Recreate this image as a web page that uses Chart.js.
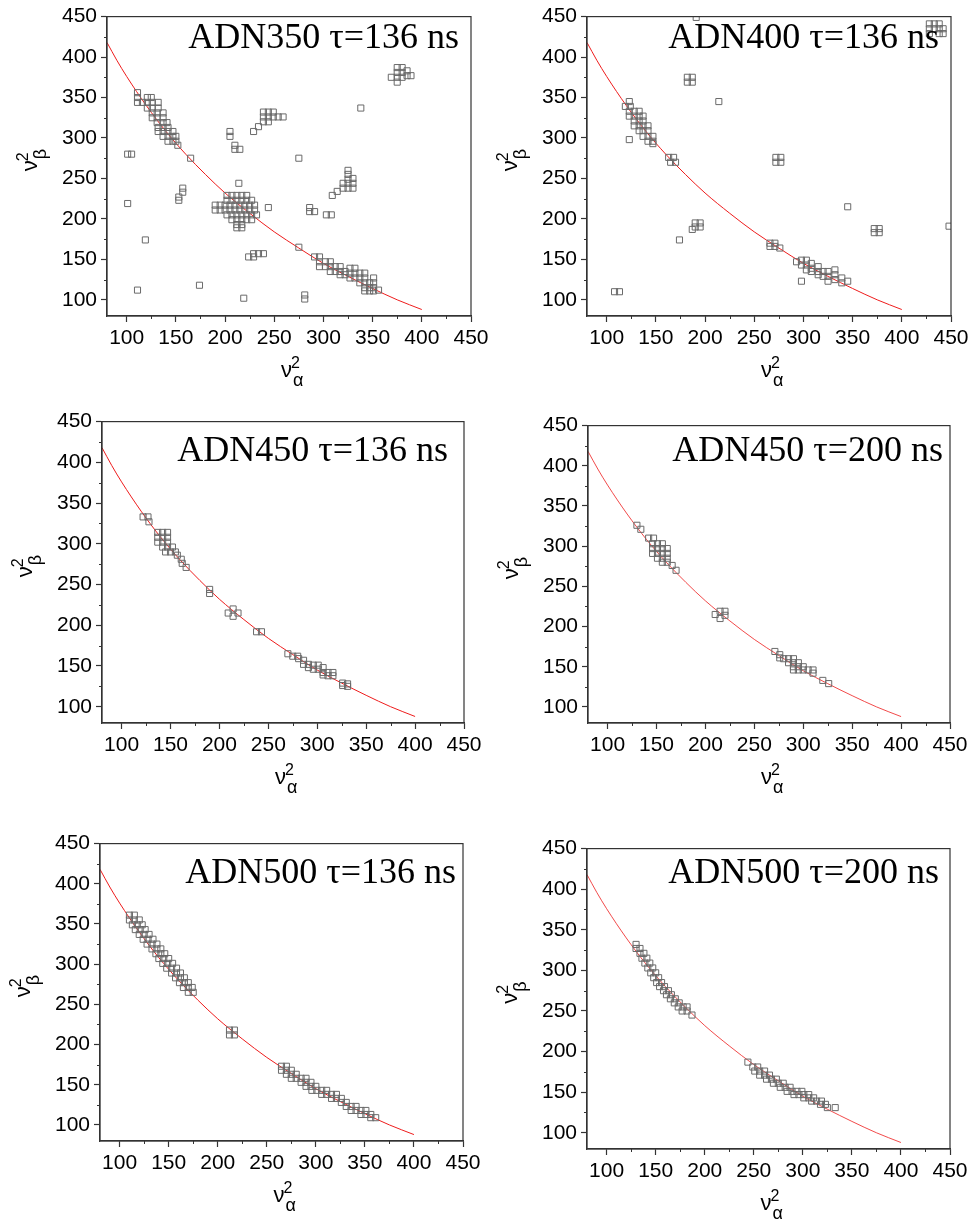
<!DOCTYPE html>
<html>
<head>
<meta charset="utf-8">
<script src="https://cdn.jsdelivr.net/npm/chart.js@4.4.1/dist/chart.umd.min.js"></script>
<style>
  body { margin: 0; background: #fff; width: 973px; height: 1220px; position: relative; overflow: hidden; }
  canvas { position: absolute; }
</style>
</head>
<body>
<script>
// axis ticks
const xTicks = [100, 150, 200, 250, 300, 350, 400, 450];
const yTicks = [100, 150, 200, 250, 300, 350, 400, 450];
const minorTicks = [125, 175, 225, 275, 325, 375, 425];

// red reference curve
const curveX = [80, 90, 100, 120, 140, 160, 180, 200, 225, 250, 275, 300, 325, 350, 375, 400];
const curveY = [418, 396, 376, 340, 308, 280, 255, 232, 207, 184, 164, 145, 129, 114, 100, 88];

// [nu_alpha^2, nu_beta^2] points per panel
const adn350_136 = [
  [111,356],[111,350],[121,350],[125,350],[111,344],[116,344],[121,344],[126,344],[132,344],
  [121,337],[126,337],[132,337],[126,331],[131,331],[137,331],[126,325],[131,325],[137,325],
  [131,319],[137,319],[141,319],[132,313],[137,313],[142,313],[132,308],[137,308],[142,308],[147,308],
  [137,302],[142,302],[147,302],[150,302],[142,296],[147,296],[150,296],[152,291],
  [101,280],[105,280],[101,219],[111,112],[119,174],[157,238],[157,233],[153,227],[153,223],
  [165,275],[174,118],[205,308],[205,302],[210,291],[210,286],[215,286],[214,244],[219,102],
  [244,214],[224,153],[229,153],[229,157],[234,157],[239,157],[229,308],[234,314],
  [239,332],[244,332],[249,332],[239,326],[244,326],[249,326],[254,326],[259,326],[239,320],[244,320],
  [275,275],[275,165],[281,106],[281,101],[286,214],[286,209],[291,209],[303,205],[308,205],
  [309,229],[314,234],[320,244],[320,238],[325,260],[325,255],[325,249],[325,244],[325,238],
  [330,250],[330,244],[330,238],[338,337],
  [369,375],[375,387],[375,381],[375,375],[375,369],[380,387],[380,381],[380,375],[385,383],[385,377],[389,377],
  [202,229],[207,229],[212,229],[217,229],[222,229],
  [202,223],[207,223],[212,223],[217,223],[222,223],[227,223],
  [190,217],[195,217],[200,217],[205,217],[210,217],[215,217],[220,217],[225,217],[230,217],
  [190,211],[195,211],[200,211],[205,211],[210,211],[215,211],[220,211],[225,211],[230,211],
  [202,205],[207,205],[212,205],[217,205],[222,205],[227,205],[232,205],
  [207,199],[212,199],[217,199],[222,199],[227,199],[212,193],[217,193],[212,189],[217,189],
  [291,153],[296,153],[296,147],[296,141],[302,147],[302,141],[307,147],[307,141],[307,135],
  [312,141],[312,135],[317,141],[317,135],[317,131],[322,135],[322,131],[327,139],[327,133],[327,127],
  [332,139],[332,133],[332,127],[337,133],[337,127],[337,121],[342,133],[342,127],[342,121],[342,115],[342,111],
  [347,121],[347,115],[347,111],[351,127],[351,121],[351,115],[351,111],[356,112]
];

const adn400_136 = [
  [191,449],[428,441],[433,441],[438,441],[428,435],[433,435],[438,435],[442,435],[428,429],[438,429],[442,429],
  [182,375],[187,375],[182,369],[187,369],[214,345],
  [123,345],[119,339],[124,339],[123,333],[128,333],[133,333],[123,327],[128,327],[133,327],[137,327],
  [128,321],[133,321],[137,321],[128,315],[133,315],[137,315],[142,315],[133,309],[137,309],[142,309],
  [137,302],[142,302],[147,302],[142,296],[147,296],[147,293],[123,298],
  [163,276],[168,276],[165,270],[170,270],[272,276],[277,276],[272,270],[277,270],[174,174],
  [187,187],[190,195],[195,195],[190,190],[195,190],[345,215],[372,188],[377,188],[372,183],[377,183],
  [448,191],[108,110],[113,110],[266,170],[271,170],[266,166],[271,166],[276,164],
  [293,147],[298,149],[298,143],[303,149],[303,143],[303,137],[308,145],[308,139],[308,135],
  [315,141],[315,135],[315,131],[320,135],[320,129],[325,135],[325,129],[325,123],
  [332,137],[332,131],[332,125],[339,127],[339,121],[345,123],[298,123]
];

const adn450_136 = [
  [122,333],[127,333],[128,327],[137,314],[142,314],[147,314],[137,308],[142,308],[147,308],
  [137,302],[142,302],[147,302],[142,296],[147,296],[152,296],[145,290],[150,290],[155,290],
  [157,286],[161,281],[162,276],[166,271],[190,244],[190,239],[209,215],[214,220],[214,211],[219,215],
  [238,192],[243,192],[270,165],[275,162],[280,162],[281,159],[286,157],[286,152],[291,152],[291,148],
  [296,151],[296,146],[301,146],[301,151],[306,148],[306,142],[311,142],[316,142],[316,138],[311,138],
  [306,139],[326,129],[331,125],[326,126],[331,128]
];

const adn450_200 = [
  [130,326],[134,321],[142,310],[147,310],[146,303],[151,303],[156,303],[146,297],[151,297],[156,297],[161,297],
  [146,291],[151,291],[156,291],[161,291],[151,285],[156,285],[161,285],[156,280],[161,280],[166,276],[170,270],
  [210,215],[215,219],[220,219],[215,210],[220,214],[271,169],[276,165],[276,161],
  [280,160],[285,160],[290,160],[285,155],[290,155],[295,155],[290,150],[295,150],[300,150],
  [290,146],[295,146],[300,146],[305,146],[310,146],[310,142],[320,133],[326,129]
];

const adn500_136 = [
  [110,361],[115,361],[110,355],[115,355],[120,355],[113,349],[118,349],[123,349],
  [116,343],[121,343],[126,343],[120,337],[125,337],[130,337],[124,331],[129,331],[134,331],
  [128,325],[133,325],[138,325],[133,319],[138,319],[142,319],[137,313],[142,313],[146,313],
  [140,307],[145,307],[150,307],[144,301],[149,301],[154,301],[148,295],[153,295],[158,295],
  [153,289],[158,289],[162,289],[157,283],[162,283],[166,283],[161,277],[166,277],[170,277],
  [165,271],[170,271],[174,271],[170,265],[175,265],
  [212,218],[217,218],[212,212],[217,212],
  [265,173],[270,173],[265,168],[270,168],[275,168],[270,163],[275,163],[280,163],
  [275,158],[280,158],[285,158],[290,158],[285,153],[290,153],[295,153],[290,148],[295,148],[300,148],
  [296,143],[301,143],[306,143],[311,143],[306,138],[311,138],[316,138],[321,138],
  [316,133],[321,133],[326,133],[326,128],[331,128],[331,123],[336,123],[341,123],
  [336,118],[341,118],[346,118],[351,118],[346,113],[351,113],[356,113],[356,109],[361,109]
];

const adn500_200 = [
  [130,332],[130,327],[134,327],[134,321],[138,321],[136,315],[141,315],[139,309],[144,309],
  [142,303],[147,303],[145,297],[150,297],[148,291],[153,291],[151,285],[156,285],[154,280],[159,280],
  [158,275],[163,275],[161,270],[166,270],[165,265],[170,265],[169,260],[174,260],
  [173,255],[178,255],[182,255],[177,250],[182,250],[187,245],
  [244,187],[249,181],[254,181],[251,176],[256,176],[261,176],[256,171],[261,171],[266,171],
  [263,166],[268,166],[273,166],[270,161],[275,161],[280,161],[277,156],[282,156],[287,156],
  [284,151],[289,151],[294,151],[299,151],[291,147],[296,147],[301,147],[306,147],
  [301,143],[306,143],[311,143],[309,139],[314,139],[319,139],[318,135],[323,135],[325,131],[333,131]
];

// panel placement: canvas box and title offsets inside the plot area
const panels = [
  { title: "ADN350 τ=136 ns", pts: adn350_136, left: 7, top: 0, w: 486, h: 391, dx: 12, dy: 31, lw: 1 },
  { title: "ADN400 τ=136 ns", pts: adn400_136, left: 487, top: 0, w: 486, h: 391, dx: 12, dy: 31, lw: 1 },
  { title: "ADN450 τ=136 ns", pts: adn450_136, left: 2, top: 405, w: 484, h: 393, dx: 16, dy: 39, lw: 1 },
  { title: "ADN450 τ=200 ns", pts: adn450_200, left: 488, top: 409, w: 484, h: 389, dx: 7, dy: 35, lw: 0.8 },
  { title: "ADN500 τ=136 ns", pts: adn500_136, left: 0, top: 827, w: 485, h: 389, dx: 7, dy: 39, lw: 1 },
  { title: "ADN500 τ=200 ns", pts: adn500_200, left: 487, top: 832, w: 485, h: 392, dx: 11, dy: 34, lw: 0.8 }
];

function drawSymbol(ctx, x, y, sub) {
  ctx.font = '22px "Liberation Sans"';
  ctx.fillText("ν", x, y);
  const w = ctx.measureText("ν").width;
  ctx.font = '16px "Liberation Sans"';
  ctx.fillText("2", x + w - 1, y - 9);
  ctx.font = '18px "Liberation Sans"';
  ctx.fillText(sub, x + w + 1, y + 9);
}

const framePlugin = {
  id: "frame",
  afterDraw(chart, args, opts) {
    const { ctx, chartArea: a, scales } = chart;
    ctx.save();
    ctx.strokeStyle = "#333";
    ctx.lineWidth = 1.2;
    ctx.strokeRect(a.left, a.top, a.right - a.left, a.bottom - a.top);

    // minor ticks
    ctx.lineWidth = 1;
    ctx.beginPath();
    minorTicks.forEach((v) => {
      const px = Math.round(scales.x.getPixelForValue(v)) + 0.5;
      ctx.moveTo(px, a.bottom);
      ctx.lineTo(px, a.bottom + 3);
      const py = Math.round(scales.y.getPixelForValue(v)) + 0.5;
      ctx.moveTo(a.left, py);
      ctx.lineTo(a.left - 3, py);
    });
    ctx.stroke();

    ctx.fillStyle = "#000";
    ctx.textBaseline = "alphabetic";
    ctx.font = '36px "Liberation Serif"';
    ctx.textAlign = "right";
    ctx.fillText(opts.text, a.right - opts.dx, a.top + opts.dy);

    ctx.textAlign = "left";
    drawSymbol(ctx, (a.left + a.right) / 2 - 8, a.bottom + 61, "α");

    ctx.translate(a.left - 70, (a.top + a.bottom) / 2 + 5);
    ctx.rotate(-Math.PI / 2);
    drawSymbol(ctx, 0, 0, "β");
    ctx.restore();
  }
};

function axis(ticks, fit) {
  return {
    type: "linear",
    min: 80,
    max: 450,
    afterBuildTicks: (s) => { s.ticks = ticks.map((v) => ({ value: v })); },
    afterFit: fit,
    grid: { drawOnChartArea: false, tickLength: 6, tickColor: "#333", tickWidth: 1.2 },
    border: { color: "#333", width: 1.2 },
    ticks: {
      color: "#000",
      font: { family: '"Liberation Sans", Arial, sans-serif', size: 21 },
      padding: 4,
      maxRotation: 0,
      autoSkip: false
    }
  };
}

panels.forEach((p) => {
  const canvas = document.createElement("canvas");
  canvas.width = p.w;
  canvas.height = p.h;
  canvas.style.left = p.left + "px";
  canvas.style.top = p.top + "px";
  document.body.appendChild(canvas);

  new Chart(canvas.getContext("2d"), {
    type: "scatter",
    data: {
      datasets: [
        {
          data: p.pts.map(([x, y]) => ({ x, y })),
          pointStyle: "rect",
          pointRadius: 4.3,
          borderColor: "#6a6a6a",
          borderWidth: 1,
          backgroundColor: "rgba(0,0,0,0)",
          order: 0
        },
        {
          type: "line",
          data: curveX.map((x, i) => ({ x, y: curveY[i] })),
          borderColor: "#ee1c1c",
          borderWidth: p.lw,
          pointRadius: 0,
          fill: false,
          cubicInterpolationMode: "monotone",
          order: 1
        }
      ]
    },
    options: {
      responsive: false,
      animation: false,
      events: [],
      layout: { padding: { top: 16, right: 22, left: 0, bottom: 0 } },
      plugins: {
        legend: { display: false },
        tooltip: { enabled: false },
        frame: { text: p.title, dx: p.dx, dy: p.dy }
      },
      scales: {
        x: axis(xTicks, (s) => { s.height = 75; }),
        y: axis(yTicks, (s) => { s.width = 100; })
      }
    },
    plugins: [framePlugin]
  });
});
</script>
</body>
</html>
